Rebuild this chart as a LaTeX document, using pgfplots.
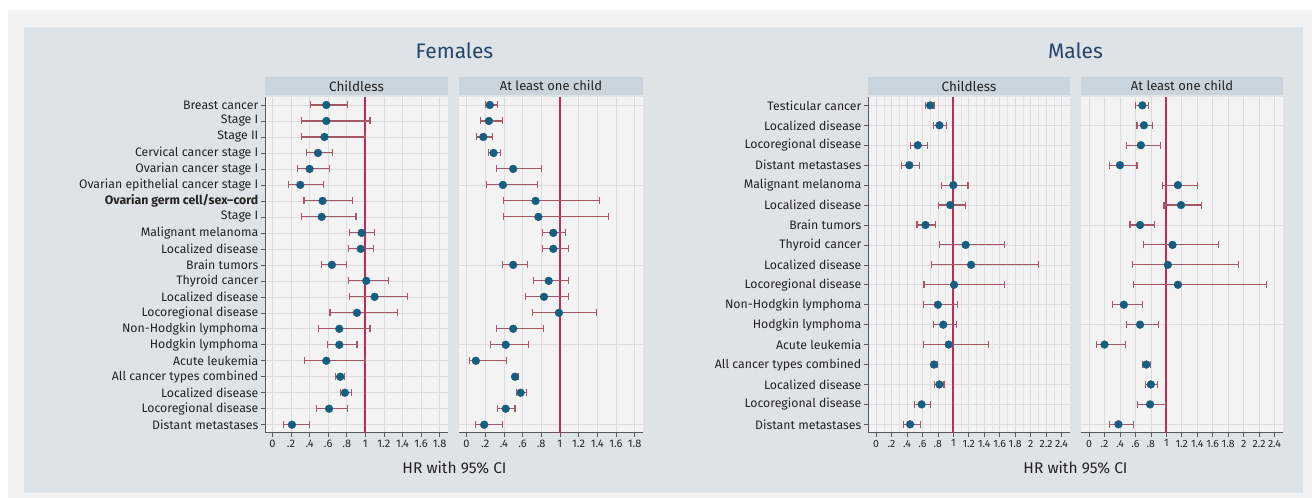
\documentclass[border=0pt]{standalone}
\usepackage{pgfplots}
\usepackage{pgfplotstable}
\pgfplotsset{compat=1.18}
\usepackage{fontspec}
\setmainfont{Fira Sans}

\definecolor{outerbg}{RGB}{242,242,242}
\definecolor{panelbg}{RGB}{221,227,231}
\definecolor{stripbg}{RGB}{201,212,220}
\definecolor{plotbg}{RGB}{243,243,243}
\definecolor{gridc}{RGB}{218,220,223}
\definecolor{dotc}{RGB}{22,94,127}
\definecolor{errc}{RGB}{166,88,100}
\definecolor{refc}{RGB}{198,42,84}
\definecolor{titlec}{RGB}{38,70,105}
\definecolor{txt}{RGB}{35,35,35}

% columns: r = row (top = 1), m = HR, l = lower CI, h = upper CI
\pgfplotstableread{
r m l h
1 0.58 0.41 0.81
2 0.58 0.31 1.05
3 0.56 0.31 1.00
4 0.49 0.37 0.65
5 0.40 0.27 0.61
6 0.30 0.17 0.55
7 0.54 0.34 0.86
8 0.53 0.31 0.90
9 0.96 0.83 1.10
10 0.95 0.82 1.09
11 0.64 0.53 0.80
12 1.01 0.82 1.25
13 1.10 0.83 1.45
14 0.91 0.62 1.35
15 0.72 0.50 1.05
16 0.72 0.59 0.91
17 0.58 0.35 1.00
18 0.73 0.68 0.78
19 0.78 0.73 0.85
20 0.61 0.47 0.81
21 0.21 0.12 0.40
}\fc
\pgfplotstableread{
r m l h
1 0.25 0.20 0.33
2 0.24 0.15 0.39
3 0.18 0.11 0.28
4 0.29 0.24 0.36
5 0.50 0.32 0.80
6 0.39 0.21 0.76
7 0.74 0.40 1.42
8 0.77 0.40 1.52
9 0.93 0.81 1.06
10 0.93 0.81 1.09
11 0.50 0.39 0.65
12 0.88 0.72 1.09
13 0.83 0.63 1.09
14 0.99 0.71 1.39
15 0.50 0.32 0.82
16 0.42 0.26 0.66
17 0.10 0.03 0.43
18 0.52 0.50 0.56
19 0.58 0.54 0.64
20 0.42 0.33 0.52
21 0.19 0.10 0.39
}\fa
\pgfplotstableread{
r m l h
1 0.70 0.64 0.75
2 0.82 0.74 0.91
3 0.54 0.45 0.67
4 0.43 0.33 0.56
5 1.00 0.85 1.19
6 0.96 0.81 1.16
7 0.64 0.53 0.77
8 1.16 0.82 1.66
9 1.23 0.72 2.10
10 1.01 0.62 1.66
11 0.80 0.61 1.05
12 0.87 0.74 1.04
13 0.94 0.61 1.45
14 0.75 0.72 0.79
15 0.82 0.76 0.88
16 0.59 0.50 0.70
17 0.44 0.35 0.57
}\mc
\pgfplotstableread{
r m l h
1 0.69 0.60 0.77
2 0.71 0.62 0.82
3 0.67 0.49 0.93
4 0.40 0.26 0.62
5 1.15 0.95 1.40
6 1.19 0.97 1.46
7 0.66 0.53 0.85
8 1.08 0.70 1.67
9 1.02 0.56 1.93
10 1.15 0.58 2.30
11 0.45 0.30 0.69
12 0.66 0.49 0.90
13 0.20 0.10 0.47
14 0.74 0.69 0.80
15 0.80 0.73 0.88
16 0.79 0.63 0.99
17 0.38 0.26 0.57
}\ma

\pgfplotsset{
  forest/.style={
    scale only axis, anchor=south west,
    axis x line*=bottom, axis y line*=left,
    axis background/.style={fill=plotbg},
    tick align=outside, major tick length=4.5pt,
    every tick/.style={color=black!65, line width=0.6pt},
    axis line style={color=black!65, line width=0.7pt},
    x tick label style={font=\fontsize{11}{13}\selectfont, text=txt, inner sep=2.5pt},
    y tick label style={font=\fontsize{12.3}{14}\selectfont, text=txt, inner sep=2pt},
    grid style={gridc, line width=0.6pt},
    minor grid style={gridc!70!plotbg, line width=0.5pt},
    xmajorgrids,
  },
  fem/.style={forest, width=183pt, height=335.7pt,
    xmin=-0.08, xmax=1.89, ymin=0.5, ymax=21.5,
    xtick={0,0.2,0.4,0.6,0.8,1,1.2,1.4,1.6,1.8},
    xticklabels={0,.2,.4,.6,.8,1,1.2,1.4,1.6,1.8},
    ytick={1,...,21}},
  mal/.style={forest, width=202pt, height=335.7pt,
    xmin=-0.104, xmax=2.51, ymin=0.58, ymax=17.42,
    xtick={0,0.2,0.4,0.6,0.8,1,1.2,1.4,1.6,1.8,2,2.2,2.4},
    xticklabels={0,.2,.4,.6,.8,1,1.2,1.4,1.6,1.8,2,2.2,2.4},
    x tick label style={font=\fontsize{10.5}{12}\selectfont, inner sep=1pt, yshift=-1.5pt},
    ytick={1,...,17}},
  right panel/.style={yticklabels={}, y axis line style={draw=none}, major y tick style={draw=none},
    ytick={1,6,11,16,21}, ymajorgrids},
  refline/.style={draw=refc, line width=1.7pt, mark=none},
  ebar/.style={only marks, mark=none,
    error bars/.cd, x dir=both, x explicit,
    error bar style={errc, line width=1.1pt},
    error mark=|, error mark options={errc, line width=1.1pt, mark size=3.5pt}},
  dot/.style={only marks, mark=*, mark size=3.9pt, mark options={fill=dotc, draw=dotc}},
}

% #1 table, #2 number of rows + 1 (row r is drawn at y = #2 - r)
\newcommand{\forestplots}[2]{%
  \addplot[ebar] table[x=m, y expr=#2-\thisrow{r}, x error plus expr=\thisrow{h}-\thisrow{m}, x error minus expr=\thisrow{m}-\thisrow{l}] {#1};
  \addplot[dot] table[x=m, y expr=#2-\thisrow{r}] {#1};
}

\begin{document}
\begin{tikzpicture}
\useasboundingbox (0pt,0pt) rectangle (1312pt,498pt);
\fill[white] (0pt,0pt) rectangle (1312pt,498pt);
\fill[outerbg] (8pt,0pt) rectangle (1312pt,488pt);
\fill[panelbg] (24pt,5pt) rectangle (1303pt,471pt);

% titles
\node[font=\fontsize{21}{24}\selectfont, text=titlec] at (454.5pt,447pt) {Females};
\node[font=\fontsize{21}{24}\selectfont, text=titlec] at (1075.5pt,447pt) {Males};

% strips
\fill[stripbg] (265pt,403pt) rectangle (448pt,421pt);
\node[font=\fontsize{13.5}{15}\selectfont, text=txt] at (356.5pt,412pt) {Childless};
\fill[stripbg] (459pt,403pt) rectangle (643pt,421pt);
\node[font=\fontsize{13}{15}\selectfont, text=txt] at (551pt,412pt) {At least one child};
\fill[stripbg] (868pt,403pt) rectangle (1070pt,421pt);
\node[font=\fontsize{13.5}{15}\selectfont, text=txt] at (969pt,412pt) {Childless};
\fill[stripbg] (1081pt,403pt) rectangle (1283pt,421pt);
\node[font=\fontsize{13}{15}\selectfont, text=txt] at (1182pt,412pt) {At least one child};

% x titles
\node[font=\fontsize{15.5}{17}\selectfont, text=txt] at (454.5pt,30pt) {HR with 95\% CI};
\node[font=\fontsize{15.5}{17}\selectfont, text=txt] at (1075.5pt,30pt) {HR with 95\% CI};

% Females, childless
\begin{axis}[fem, at={(265pt,65.3pt)}, ymajorgrids,
  yticklabels={Distant metastases, Locoregional disease, Localized disease, All cancer types combined,
    Acute leukemia, Hodgkin lymphoma, Non-Hodgkin lymphoma, Locoregional disease, Localized disease,
    Thyroid cancer, Brain tumors, Localized disease, Malignant melanoma, Stage I,
    {\bfseries Ovarian germ cell/sex–cord}, Ovarian epithelial cancer stage I, Ovarian cancer stage I,
    Cervical cancer stage I, Stage II, Stage I, Breast cancer}]
  \addplot[refline] coordinates {(1,0.5) (1,21.5)};
  \forestplots{\fc}{22}
\end{axis}

% Females, at least one child
\begin{axis}[fem, width=184pt, at={(459pt,65.3pt)}, right panel]
  \addplot[refline] coordinates {(1,0.5) (1,21.5)};
  \forestplots{\fa}{22}
\end{axis}

% Males, childless
\begin{axis}[mal, at={(868pt,65.3pt)}, ymajorgrids, minor x tick num=1, xminorgrids, minor tick length=0pt,
  yticklabels={Distant metastases, Locoregional disease, Localized disease, All cancer types combined,
    Acute leukemia, Hodgkin lymphoma, Non-Hodgkin lymphoma, Locoregional disease, Localized disease,
    Thyroid cancer, Brain tumors, Localized disease, Malignant melanoma, Distant metastases,
    Locoregional disease, Localized disease, Testicular cancer}]
  \addplot[refline] coordinates {(1,0.58) (1,17.42)};
  \forestplots{\mc}{18}
\end{axis}

% Males, at least one child
\begin{axis}[mal, at={(1081pt,65.3pt)}, right panel, ytick={1,6,11,16}]
  \addplot[refline] coordinates {(1,0.58) (1,17.42)};
  \forestplots{\ma}{18}
\end{axis}
\end{tikzpicture}
\end{document}
